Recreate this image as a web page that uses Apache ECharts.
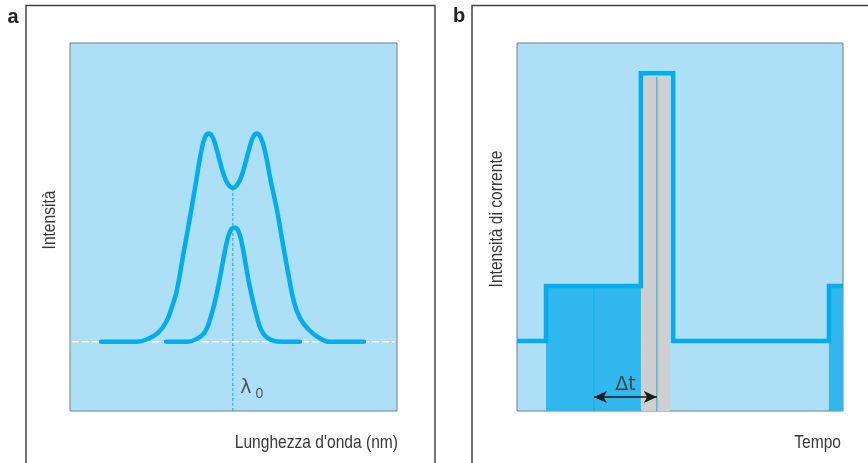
<!DOCTYPE html>
<html>
<head>
<meta charset="utf-8">
<script src="https://cdn.jsdelivr.net/npm/echarts@6/dist/echarts.min.js"></script>
<style>html,body{margin:0;padding:0;background:#fff}#c{width:868px;height:463px}</style>
</head>
<body>
<div id="c"></div>
<script>
// ---- Panel a: spectrum (wavelength 0..100 arbitrary, intensity 0..100 arbitrary)
var baselineA = [[0.6, 18.8], [99.4, 18.8]];
var specWide = [[9.5,18.8],[15,18.8],[20.5,18.8],[23.9,19.6],[26.9,21.2],[29.4,24.2],[31.2,28.3],[32.7,32.9],[34.7,42.8],[36.7,52.7],[38.4,61.5],[40.1,70.4],[41.3,74.4],[42.5,75.4],[43.5,74.6],[44.5,72.2],[45.6,68.6],[46.8,64.8],[48.2,61.8],[49.8,60.6],[51.4,61.8],[52.8,64.8],[54.0,68.6],[55.1,72.2],[56.1,74.6],[57.1,75.4],[58.3,74.4],[59.6,70.8],[61.4,62.5],[63.3,54.6],[65.1,45.4],[67.0,36.1],[68.5,29.6],[70.3,25.3],[72.8,22.3],[75.8,20.1],[79.5,18.8],[84.7,18.8],[89.9,18.8]];
var specNarrow = [[29.4,18.8],[32.6,18.8],[35.8,18.8],[38.8,19.6],[41.3,21.5],[43.4,26.6],[45.3,33.7],[46.8,40.8],[48.3,47.2],[49.4,49.5],[50.5,49.8],[51.5,48.9],[52.5,45.8],[53.7,40.0],[55.0,33.7],[57.2,25.5],[59.0,21.2],[62.1,19.1],[65.1,18.8],[67.7,18.8],[70.3,18.8]];
var lambda0Line = [[49.8,60.6],[49.8,0]];
var lambda0Label = [[49.8, 0, 'λ', '0']];
var axisTitleA_y = 'Intensità';
var axisTitleA_x = 'Lunghezza d\'onda (nm)';

// ---- Panel b: current vs time (time 0..100, current 0..100 arbitrary)
var pulseStep = [[0,19],[8.9,19],[8.9,34],[38,34],[38,91.8],[47.9,91.8],[47.9,19],[95.7,19],[95.7,34],[100,34]];
var fillLow1 = [[8.9,34],[38,34]];
var fillLow2 = [[95.7,34],[100,34]];
var grayBand = [[38.3,90.8],[46.9,90.8]];
var thinLine1 = [[23.6,34],[23.6,0]];
var thinLine2 = [[42.9,90.8],[42.9,0]];
var deltaT = [[23.6,3.8],[42.9,3.8]];
var deltaTLabel = 'Δt';
var axisTitleB_y = 'Intensità di corrente';
var axisTitleB_x = 'Tempo';
var panelLabels = ['a', 'b'];

var CYAN = '#00AEEF', BG = '#ADDFF6', DARK = '#30B8EE', GRAY = '#CFCFCF';
var FONT = "'Liberation Sans','Arial',sans-serif";
var SX = 0.82;

function lineS(data, xi, style, extra) {
  var s = {type:'line', xAxisIndex:xi, yAxisIndex:xi, data:data, symbol:'none', silent:true,
    lineStyle:style, animation:false};
  if (extra) for (var k in extra) s[k] = extra[k];
  return s;
}

var chart = echarts.init(document.getElementById('c'), null, {renderer:'canvas'});
chart.setOption({
  backgroundColor:'#fff',
  animation:false,
  grid:[
    {left:70, top:43, width:327, height:368, show:true, backgroundColor:BG, borderColor:'#6f7f88', borderWidth:1},
    {left:517, top:43, width:326, height:368, show:true, backgroundColor:BG, borderColor:'#6f7f88', borderWidth:1}
  ],
  xAxis:[
    {type:'value', gridIndex:0, min:0, max:100, show:false},
    {type:'value', gridIndex:1, min:0, max:100, show:false}
  ],
  yAxis:[
    {type:'value', gridIndex:0, min:0, max:100, show:false},
    {type:'value', gridIndex:1, min:0, max:100, show:false}
  ],
  series:[
    lineS(baselineA, 0, {color:'#ffffff', width:1.5, type:[7,3]}),
    lineS(lambda0Line, 0, {color:CYAN, width:1, type:[3,2]}),
    lineS(specWide, 0, {color:CYAN, width:4.5, cap:'round', join:'round'}, {smooth:0.4}),
    lineS(specNarrow, 0, {color:CYAN, width:4.5, cap:'round', join:'round'}, {smooth:0.4}),
    {type:'scatter', xAxisIndex:0, yAxisIndex:0, symbolSize:0, silent:true,
      data:lambda0Label.map(function(d){return {value:[d[0],d[1]]};}),
      label:{show:true, position:'inside', offset:[19,-23],
        formatter:function(){return '{l|' + lambda0Label[0][2] + '}{s|' + lambda0Label[0][3] + '}';},
        rich:{l:{fontFamily:"'DejaVu Sans',sans-serif", fontSize:19, color:'#333'}, s:{fontFamily:FONT, fontSize:14, color:'#333', padding:[12,0,0,4]}}}},

    lineS(fillLow1, 1, {width:0}, {areaStyle:{color:DARK, opacity:1, origin:'start'}}),
    lineS(fillLow2, 1, {width:0}, {areaStyle:{color:DARK, opacity:1, origin:'start'}}),
    lineS(grayBand, 1, {width:0}, {areaStyle:{color:GRAY, opacity:1, origin:'start'}}),
    lineS(thinLine1, 1, {color:'#14aee9', width:1}),
    lineS(thinLine2, 1, {color:'#14aee9', width:1}),
    lineS(pulseStep, 1, {color:CYAN, width:4.5, join:'miter', cap:'butt'}),
    {type:'line', xAxisIndex:1, yAxisIndex:1, data:[], silent:true,
      markLine:{silent:true, symbol:['arrow','arrow'], symbolSize:[9,13],
        lineStyle:{color:'#1a1a1a', width:1.5, type:'solid'},
        label:{show:true, position:'middle', formatter:deltaTLabel, fontFamily:"'DejaVu Sans',sans-serif", fontSize:19, color:'#444', distance:2},
        data:[[{coord:deltaT[0]},{coord:deltaT[1]}]]}}
  ],
  graphic:[
    {type:'polyline', silent:true, shape:{points:[[26,463],[26,5.5],[435,5.5],[435,463]]}, style:{stroke:'#444', lineWidth:1.5, fill:null}},
    {type:'polyline', silent:true, shape:{points:[[472,463],[472,5.5],[868,5.5]]}, style:{stroke:'#444', lineWidth:1.5, fill:null}},
    {type:'text', x:13, y:17, silent:true, style:{text:panelLabels[0], font:"bold 20px 'Liberation Sans','Arial',sans-serif", fill:'#222', textAlign:'center', textVerticalAlign:'middle'}},
    {type:'text', x:459, y:16, silent:true, style:{text:panelLabels[1], font:"bold 20px 'Liberation Sans','Arial',sans-serif", fill:'#222', textAlign:'center', textVerticalAlign:'middle'}},
    {type:'text', x:50, y:220, rotation:Math.PI/2, scaleX:SX, silent:true, style:{text:axisTitleA_y, font:"19px " + FONT, fill:'#383838', textAlign:'center', textVerticalAlign:'middle'}},
    {type:'text', x:398, y:443, scaleX:SX, silent:true, style:{text:axisTitleA_x, font:"19px " + FONT, fill:'#383838', textAlign:'right', textVerticalAlign:'middle'}},
    {type:'text', x:497, y:219, rotation:Math.PI/2, scaleX:SX, silent:true, style:{text:axisTitleB_y, font:"19px " + FONT, fill:'#383838', textAlign:'center', textVerticalAlign:'middle'}},
    {type:'text', x:841, y:443, scaleX:SX, silent:true, style:{text:axisTitleB_x, font:"19px " + FONT, fill:'#383838', textAlign:'right', textVerticalAlign:'middle'}}
  ]
});
</script>
</body>
</html>
